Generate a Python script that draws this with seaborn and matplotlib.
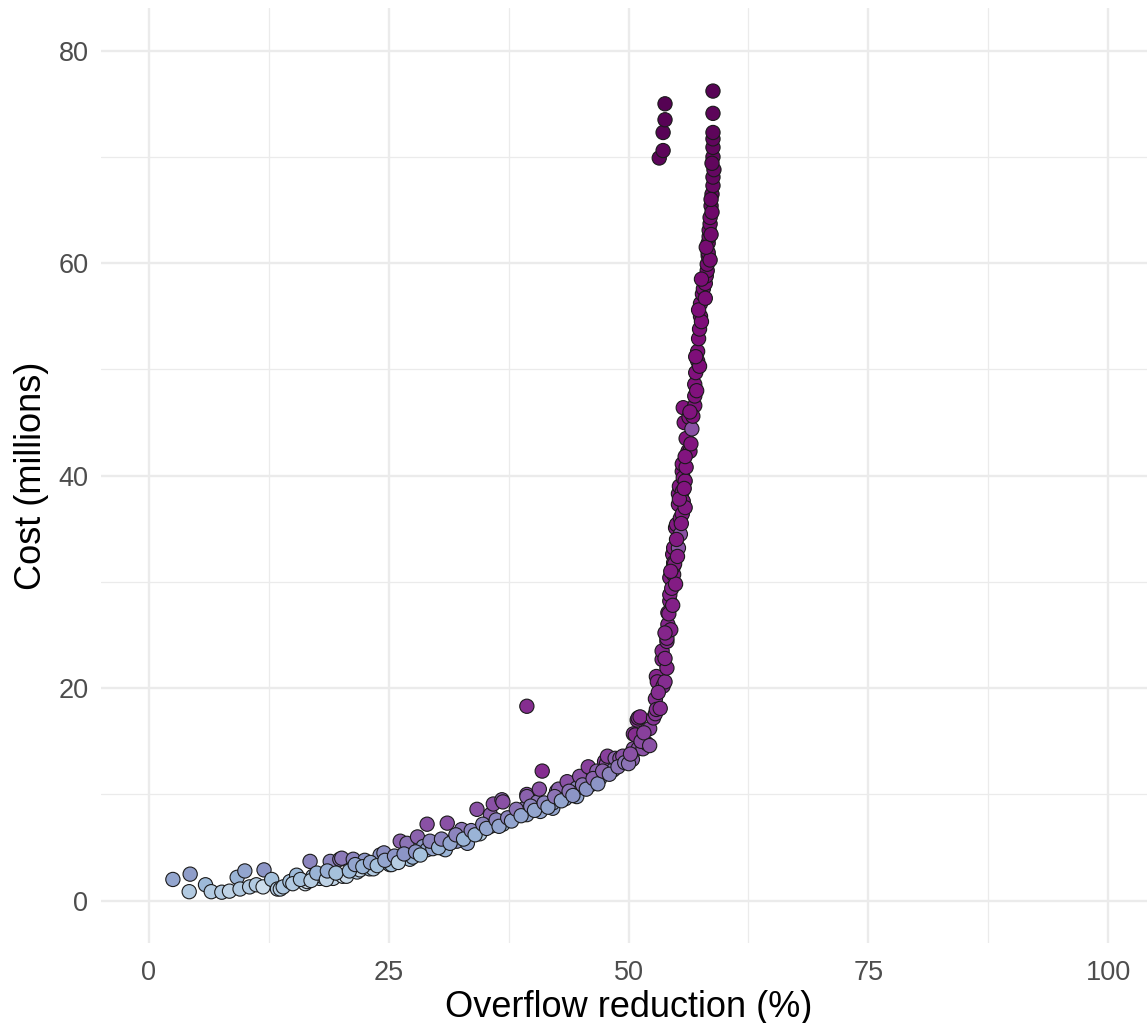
import matplotlib
matplotlib.use("Agg")
import matplotlib.pyplot as plt
import seaborn as sns
import pandas as pd
from matplotlib.ticker import MultipleLocator

# Overflow reduction (%)
overflow = [
    2.5, 4.3, 4.2, 5.9, 6.5, 7.6, 8.4, 9.2, 9.5, 10.0, 10.5, 11.2, 11.9, 12.0, 12.8,
    13.4, 13.7, 14.0, 14.7, 15.4, 16.3, 16.5, 16.8, 17.1, 17.8, 18.0, 18.9, 19.2,
    19.9, 20.1, 20.2, 20.6, 21.3, 21.7, 22.0, 22.5, 23.0, 23.4, 24.1, 24.5, 25.1, 25.3,
    26.2, 26.2, 26.9, 26.9, 27.2, 27.5, 28.0, 28.6, 29.0, 29.0, 29.6, 30.7, 30.9,
    31.1, 31.7, 32.1, 32.6, 33.2, 33.2, 34.2, 34.5, 35.6, 35.6, 35.9, 36.8, 36.9,
    36.9, 38.4, 39.2, 39.4, 39.4, 39.4, 39.4, 40.5, 40.7, 40.8, 41.0, 42.1, 42.1,
    42.5, 42.7, 43.4, 43.6, 44.6, 44.6, 44.9, 45.8, 46.0, 46.7, 47.0, 47.5, 47.7,
    47.8, 48.4, 48.6, 49.1, 49.4, 50.4, 50.5, 50.5, 50.7, 50.9, 51.0, 51.0, 51.2,
    51.5, 51.9, 52.2, 52.6, 52.8, 52.8, 52.9, 52.9, 53.3, 53.0, 53.5, 53.5, 53.6,
    53.8, 54.0, 54.0, 54.0, 54.1, 54.1, 54.2, 54.3, 54.3, 54.3, 54.5, 54.6, 54.7,
    54.7, 54.7, 54.7, 54.8, 54.9, 55.0, 55.2, 55.2, 55.2, 55.3, 55.4, 55.4, 55.6,
    55.6, 55.6, 55.6, 55.7, 55.7, 55.7, 55.8, 55.9, 56.0, 56.2, 56.3, 56.4, 56.6,
    56.9, 56.9, 56.9, 57.0, 57.2, 57.2, 57.3, 57.4, 57.5, 57.5, 57.7, 57.8, 58.0,
    58.1, 58.2, 58.2, 58.3, 58.3, 58.3, 58.4, 58.4, 58.5, 58.5, 58.6, 58.7, 58.8,
    58.8, 58.8, 58.8, 58.8, 58.8, 58.8, 58.8,
    53.2, 53.6, 53.6, 53.8, 53.8,
    # denser band along the curve
    15.0, 15.8, 16.9, 17.5, 18.5, 18.6, 19.5, 20.9, 21.5, 22.3, 23.1, 23.8, 24.6,
    25.6, 26.0, 26.6, 27.8, 28.3, 29.3, 30.2, 30.5, 31.4, 32.0, 32.8, 33.6, 34.0,
    34.8, 35.2, 36.2, 36.5, 37.4, 37.8, 38.3, 38.8, 39.8, 40.2, 41.2, 41.6, 42.3,
    43.0, 43.8, 44.2, 45.2, 45.6, 46.3, 46.8, 47.3, 48.0, 48.9, 49.6, 50.0, 50.2,
    51.3, 51.6, 52.2,
    53.1, 53.8, 54.4, 53.8, 54.6, 54.9, 54.4, 55.1, 55.0, 55.5, 55.9, 55.3, 55.8,
    56.0, 55.9, 56.5, 56.7, 56.4, 57.1, 57.4, 57.0, 57.6, 57.3, 58.0, 57.6, 58.5,
    58.1, 58.6, 58.7, 58.6, 58.9, 58.7,
]

# Cost (millions)
cost = [
    2.0, 2.5, 0.85, 1.5, 0.85, 0.8, 0.9, 2.2, 1.1, 2.8, 1.3, 1.5, 1.3, 2.9, 2.0,
    1.1, 1.1, 1.3, 1.8, 2.4, 1.6, 1.8, 3.7, 2.3, 2.1, 2.3, 3.7, 2.1,
    3.9, 4.0, 2.3, 2.3, 3.9, 2.7, 2.9, 3.8, 3.0, 3.0, 4.3, 4.5, 3.4, 3.4,
    5.6, 3.9, 4.6, 5.4, 3.9, 4.1, 6.0, 5.1, 7.2, 4.8, 4.9, 4.9, 4.8,
    7.3, 5.6, 5.6, 6.7, 5.6, 5.4, 8.6, 6.3, 8.1, 7.0, 9.1, 9.5, 9.3,
    7.2, 8.1, 8.7, 10.0, 9.8, 8.1, 18.3, 9.3, 10.5, 8.4, 12.2, 8.7, 9.2,
    10.3, 10.5, 9.6, 11.2, 9.8, 10.6, 11.7, 12.6, 10.9, 12.2, 11.5, 13.1, 12.9,
    13.6, 12.3, 13.4, 13.4, 13.6, 13.3, 14.3, 15.7, 15.6, 17.0, 14.3, 17.2, 17.3,
    14.3, 14.8, 16.2, 17.2, 17.6, 19.0, 18.0, 21.1, 18.1, 20.6, 22.7, 23.5, 20.2,
    20.6, 21.9, 24.4, 24.7, 26.0, 27.1, 27.0, 28.2, 28.8, 30.4, 29.4, 32.6, 30.7,
    31.5, 31.8, 33.2, 31.7, 35.1, 35.4, 33.2, 37.3, 38.3, 39.0, 34.5, 36.0, 36.4,
    38.5, 40.4, 41.1, 37.6, 39.8, 46.4, 45.0, 39.5, 43.5, 42.3, 45.5, 42.3, 44.4,
    46.6, 47.5, 48.6, 49.7, 50.8, 51.7, 52.9, 53.8, 55.0, 56.2, 57.1, 57.6, 58.1,
    58.8, 59.3, 59.9, 60.7, 61.0, 61.9, 62.5, 63.1, 63.7, 64.3, 65.4, 66.5, 67.3,
    68.1, 70.0, 70.9, 71.7, 72.3, 74.1, 76.2,
    69.9, 70.6, 72.3, 73.5, 75.0,
    1.6, 2.0, 1.9, 2.6, 2.0, 2.8, 2.6, 2.8, 3.4, 3.2, 3.6, 3.3, 3.8,
    4.2, 3.6, 4.4, 4.6, 4.3, 5.6, 5.0, 5.8, 5.4, 6.2, 5.8, 6.6, 6.2,
    7.2, 6.8, 7.6, 7.0, 7.8, 7.5, 8.6, 8.0, 8.9, 8.5, 9.2, 8.8, 9.8,
    9.4, 10.3, 9.9, 10.9, 10.5, 11.5, 11.0, 12.2, 11.9, 12.6, 13.0, 12.9, 13.8,
    15.0, 15.8, 14.6,
    19.6, 22.8, 25.5, 25.2, 27.8, 29.8, 31.0, 32.4, 34.0, 35.5, 37.0, 37.8, 38.8,
    40.8, 41.8, 43.0, 45.6, 46.0, 48.0, 50.3, 51.2, 54.5, 55.6, 56.7, 58.5, 60.3,
    61.5, 62.7, 64.8, 66.0, 68.8, 69.4,
]

# colour score of each solution
score = [
    0.45, 0.48, 0.30, 0.38, 0.30, 0.30, 0.25, 0.40, 0.30, 0.45, 0.30, 0.30, 0.20, 0.50, 0.35,
    0.30, 0.28, 0.32, 0.35, 0.38, 0.18, 0.22, 0.55, 0.35, 0.30, 0.35, 0.55, 0.25,
    0.60, 0.58, 0.20, 0.22, 0.55, 0.30, 0.25, 0.50, 0.35, 0.30, 0.50, 0.52, 0.40, 0.35,
    0.65, 0.30, 0.55, 0.60, 0.35, 0.40, 0.65, 0.50, 0.70, 0.45, 0.45, 0.40, 0.40,
    0.70, 0.45, 0.50, 0.60, 0.40, 0.45, 0.70, 0.30, 0.65, 0.35, 0.70, 0.65, 0.70,
    0.40, 0.50, 0.60, 0.70, 0.65, 0.45, 0.80, 0.60, 0.70, 0.45, 0.80, 0.45, 0.50,
    0.60, 0.65, 0.45, 0.70, 0.45, 0.55, 0.70, 0.75, 0.50, 0.65, 0.50, 0.75, 0.70,
    0.75, 0.55, 0.65, 0.70, 0.70, 0.65, 0.70, 0.78, 0.80, 0.80, 0.70, 0.80, 0.80,
    0.70, 0.72, 0.75, 0.78, 0.78, 0.80, 0.80, 0.82, 0.80, 0.82, 0.82, 0.82, 0.80,
    0.80, 0.82, 0.82, 0.82, 0.82, 0.83, 0.83, 0.83, 0.83, 0.84, 0.83, 0.84, 0.84,
    0.84, 0.84, 0.84, 0.84, 0.85, 0.85, 0.70, 0.85, 0.85, 0.85, 0.70, 0.85, 0.85,
    0.85, 0.86, 0.86, 0.85, 0.86, 0.86, 0.86, 0.86, 0.86, 0.86, 0.86, 0.86, 0.70,
    0.87, 0.87, 0.87, 0.87, 0.88, 0.88, 0.88, 0.88, 0.88, 0.88, 0.89, 0.89, 0.89,
    0.90, 0.90, 0.90, 0.90, 0.90, 0.90, 0.90, 0.90, 0.91, 0.91, 0.92, 0.93, 0.93,
    0.94, 0.95, 0.95, 0.95, 0.96, 0.96, 0.97,
    0.96, 0.96, 0.97, 0.97, 0.98,
    0.30, 0.35, 0.28, 0.40, 0.25, 0.42, 0.35, 0.38, 0.45, 0.40, 0.45, 0.35, 0.45,
    0.50, 0.28, 0.50, 0.50, 0.35, 0.55, 0.40, 0.55, 0.45, 0.55, 0.40, 0.55, 0.40,
    0.55, 0.45, 0.55, 0.45, 0.55, 0.45, 0.60, 0.45, 0.55, 0.45, 0.55, 0.45, 0.60,
    0.45, 0.60, 0.50, 0.60, 0.50, 0.65, 0.50, 0.65, 0.55, 0.60, 0.60, 0.60, 0.70,
    0.72, 0.75, 0.70,
    0.80, 0.82, 0.83, 0.82, 0.83, 0.84, 0.84, 0.84, 0.85, 0.85, 0.85, 0.85, 0.86,
    0.86, 0.86, 0.86, 0.87, 0.86, 0.87, 0.88, 0.88, 0.88, 0.88, 0.89, 0.89, 0.90,
    0.90, 0.91, 0.92, 0.93, 0.94, 0.95,
]

x_ticks = [0, 25, 50, 75, 100]
y_ticks = [0, 20, 40, 60, 80]

df = pd.DataFrame({"overflow": overflow, "cost": cost, "score": score})

sns.set_theme(style="white")
plt.rcParams["font.family"] = ["Liberation Sans", "DejaVu Sans"]

fig = plt.figure(figsize=(11.47, 10.23), dpi=100)
ax = fig.add_axes([0.088, 0.078, 0.92, 0.914])

sns.scatterplot(data=df, x="overflow", y="cost", hue="score", palette="BuPu",
                hue_norm=(0, 1), s=105, edgecolor="#1a1a1a", linewidth=0.8,
                legend=False, ax=ax, zorder=3)

ax.set_xlim(-5, 105)
ax.set_ylim(-4, 84)
ax.set_xticks(x_ticks)
ax.set_yticks(y_ticks)
ax.xaxis.set_minor_locator(MultipleLocator(12.5))
ax.yaxis.set_minor_locator(MultipleLocator(10))
ax.grid(which="major", color="#ebebeb", linewidth=1.7, zorder=0)
ax.grid(which="minor", color="#ebebeb", linewidth=0.9, zorder=0)
ax.set_axisbelow(True)
for sp in ax.spines.values():
    sp.set_visible(False)
ax.tick_params(which="both", length=0)
ax.tick_params(axis="both", labelsize=19.5, labelcolor="#4d4d4d")
ax.tick_params(axis="x", pad=12)
ax.tick_params(axis="y", pad=9)
ax.set_xlabel("Overflow reduction (%)", fontsize=26, color="black", labelpad=3)
ax.set_ylabel("Cost (millions)", fontsize=26, color="black", labelpad=7)

fig.savefig("out.png", dpi=100, facecolor="white")
